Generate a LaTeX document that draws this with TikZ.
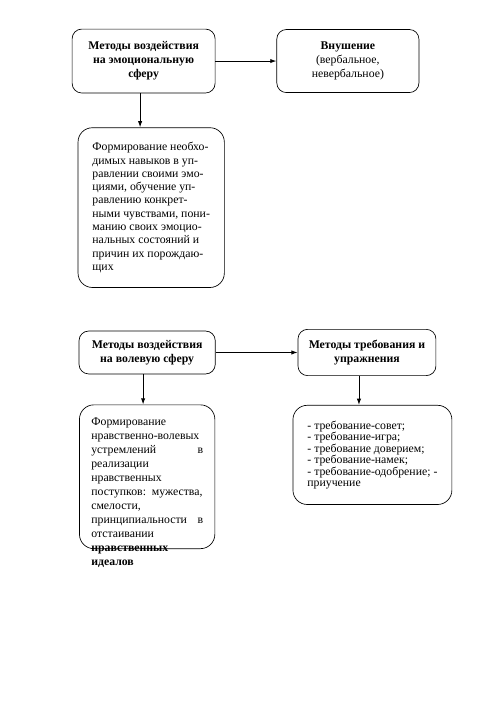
\documentclass[tikz,border=0pt]{standalone}
\usepackage{fontspec}
\setmainfont{Liberation Serif}
\usetikzlibrary{positioning,arrows.meta}

\begin{document}
\begin{tikzpicture}[
    methodbox/.style={
      draw,
      line width=0.8pt,
      rounded corners=4mm,
      align=center,
      inner sep=0pt,
      font=\fontsize{14pt}{16.7pt}\selectfont\bfseries
    },
    infobox/.style={
      draw,
      line width=0.8pt,
      rounded corners=6mm,
      align=left,
      inner sep=0pt
    },
    flowarrow/.style={
      -{Latex[length=2.6mm,width=1.8mm]},
      line width=1.1pt
    }
  ]

  \useasboundingbox (0,0) rectangle (595pt,-842pt);

  % emotional sphere
  \node[methodbox, minimum width=170pt, minimum height=76pt] (emo) at (170.8pt,-72.6pt)
    {Методы воздействия\\на эмоциональную\\сферу};
  \node[methodbox, minimum width=169pt, minimum height=75pt, right=72.6pt of emo] (sugg)
    {Внушение\\{\mdseries (вербальное,}\\{\mdseries невербальное)}};
  \node[infobox, minimum width=174pt, minimum height=190pt,
        font=\fontsize{14pt}{15.8pt}\selectfont,
        below=40.5pt of emo, xshift=9pt] (emotext)
    {Формирование необхо-\\димых навыков в уп-\\равлении своими эмо-\\циями, обучение уп-\\равлению конкрет-\\ными чувствами, пони-\\манию своих эмоцио-\\нальных состояний и\\причин их порождаю-\\щих};

  % volitional sphere
  \node[methodbox, minimum width=162pt, minimum height=51pt, below=51pt of emotext, xshift=-4.8pt] (will)
    {Методы воздействия\\на волевую сферу};
  \node[methodbox, minimum width=164pt, minimum height=55pt, right=97.6pt of will] (demand)
    {Методы требования и\\упражнения};
  \node[infobox, minimum width=161pt, minimum height=171pt, below=36pt of will] (willbox) {};
  \node[anchor=north west, inner sep=0pt, text width=133pt, align=left,
        font=\fontsize{14pt}{16.7pt}\selectfont]
    (willtext) at ([xshift=14.3pt,yshift=-15.5pt]willbox.north west)
    {Формирование\\\mbox{нравственно-волевых}\\устремлений \hfill в\\реализации\\нравственных\\\mbox{поступков: мужества,}\\смелости,\\принципиальности \hfill в\\отстаивании\\\textbf{нравственных}\\\textbf{идеалов}};
  \node[infobox, minimum width=189pt, minimum height=118pt,
        font=\fontsize{14pt}{13.6pt}\selectfont,
        below=34.5pt of demand, xshift=6.5pt] (demandtext)
    {- требование-совет;\\- требование-игра;\\- требование доверием;\\- требование-намек;\\- требование-одобрение; -\\приучение};

  % arrows
  \draw[flowarrow] (emo) -- (sugg);
  \draw[flowarrow] ([xshift=-4.2pt]emo.south) -- ([xshift=-4.2pt]emo.south |- emotext.north);
  \draw[flowarrow] (will) -- (demand);
  \draw[flowarrow] ([xshift=-4.8pt]will.south) -- ([xshift=-4.8pt]will.south |- willbox.north);
  \draw[flowarrow] ([xshift=-9.5pt]demand.south) -- ([xshift=-9.5pt]demand.south |- demandtext.north);

\end{tikzpicture}
\end{document}
